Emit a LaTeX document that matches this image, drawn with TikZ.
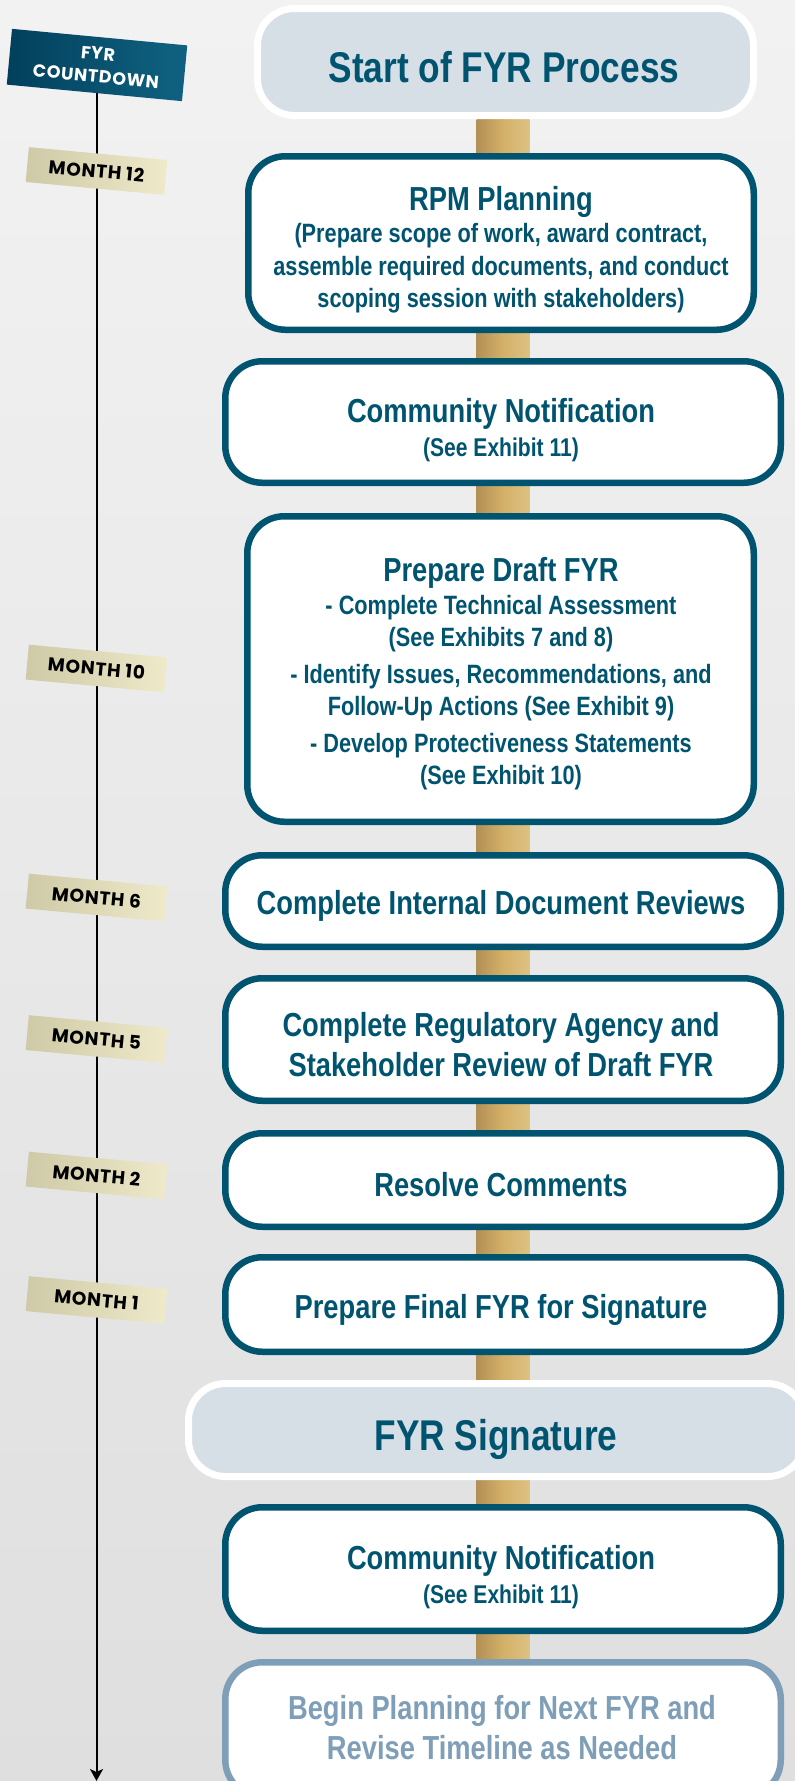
\documentclass[tikz,border=0pt]{standalone}
\usepackage{fontspec}
\usetikzlibrary{arrows.meta,calc}

\newfontfamily\narrowsans{Liberation Sans}[FakeStretch=0.82]
\newfontfamily\labelsans{Poppins}[LetterSpace=4]

\newcommand\fyrtitle{\narrowsans\bfseries\fontsize{43}{48}\selectfont}
\newcommand\fyrhead{\narrowsans\bfseries\fontsize{33.3}{40}\selectfont}
\newcommand\fyrsub{\narrowsans\bfseries\fontsize{26.5}{32.5}\selectfont}
\newcommand\fyrnote{\narrowsans\bfseries\fontsize{25.7}{32.5}\selectfont}

\definecolor{boxteal}{RGB}{0,84,112}
\definecolor{milefill}{RGB}{214,222,230}
\definecolor{fadeblue}{RGB}{127,158,183}
\definecolor{polel}{RGB}{178,144,86}
\definecolor{polem}{RGB}{212,176,104}
\definecolor{poler}{RGB}{221,194,132}
\definecolor{tagl}{RGB}{206,201,166}
\definecolor{tagr}{RGB}{238,234,202}
\definecolor{signl}{RGB}{2,64,92}
\definecolor{signr}{RGB}{16,98,130}
\definecolor{bgtop}{RGB}{242,242,242}
\definecolor{bgbot}{RGB}{223,223,223}

\pgfdeclarelayer{backdrop}
\pgfdeclarelayer{poles}
\pgfsetlayers{backdrop,poles,main}

\tikzset{
  stagebox/.style={draw=boxteal, line width=6.5pt, rounded corners=37pt,
    fill=white, inner sep=0pt},
  milebox/.style={draw=white, line width=7pt, rounded corners=37pt,
    fill=milefill, inner sep=0pt},
  nextbox/.style={stagebox, draw=fadeblue},
  stagetext/.style={text=boxteal, align=center, inner sep=0pt},
  monthtag/.style={rotate=-5.3, minimum width=139pt, minimum height=35pt,
    inner sep=0pt, left color=tagl, right color=tagr, text=black,
    font=\labelsans\bfseries\fontsize{18.5}{18.5}\selectfont},
  cdsign/.style={rotate=-5.4, minimum width=176pt, minimum height=56pt,
    inner sep=0pt, left color=signl, right color=signr, text=white,
    align=center, font=\labelsans\bfseries\fontsize{17.5}{23}\selectfont},
}

\begin{document}
\begin{tikzpicture}[x=1pt,y=-1pt]
\useasboundingbox (0,0) rectangle (795,1781);
\begin{pgfonlayer}{backdrop}
  \shade[top color=bgtop, bottom color=bgbot] (0,0) rectangle (795,1781);
\end{pgfonlayer}
\clip (0,0) rectangle (795,1781);

% process column
\node[milebox, minimum width=496, minimum height=107] (start) at (505.5,62) {};
\node[stagebox, minimum width=505.5, minimum height=173.5] (rpm) at (501,243) {};
\node[stagebox, minimum width=555.5, minimum height=121.5] (comm1) at (503,422) {};
\node[stagebox, minimum width=506.5, minimum height=305.5] (draft) at (500.5,669) {};
\node[stagebox, minimum width=555.5, minimum height=91.5] (internal) at (503,901) {};
\node[stagebox, minimum width=555.5, minimum height=122.5] (regul) at (503,1039.5) {};
\node[stagebox, minimum width=555.5, minimum height=93.5] (resolve) at (503,1180) {};
\node[stagebox, minimum width=555.5, minimum height=94.5] (final) at (503,1304.5) {};
\node[milebox, minimum width=616, minimum height=93] (sig) at (496.5,1430) {};
\node[stagebox, minimum width=555.5, minimum height=123.5] (comm2) at (503,1569) {};
\node[nextbox, minimum width=555.5, minimum height=134.5] (next) at (503,1729.5) {};

% gold pole joining the stages
\begin{pgfonlayer}{poles}
  \shade[left color=polel, right color=poler, middle color=polem]
    ($(start.south -| comm1.center)+(-26.5,0)$) rectangle ($(next.north -| comm1.center)+(26.5,0)$);
\end{pgfonlayer}

% stage texts
\node[stagetext, font=\fyrtitle] (start-t) at (504,67) {Start of FYR Process};
\node[stagetext, font=\fyrsub] (rpm-t) at (501,249.5)
  {{\fyrhead RPM Planning}\\(Prepare scope of work, award contract,\\assemble required documents, and conduct\\scoping session with stakeholders)};
\node[stagetext, font=\fyrnote] (comm1-t) at (501,430)
  {{\fyrhead Community Notification}\\[2pt](See Exhibit 11)};
\node[stagetext, font=\fyrsub] (draft-t) at (501,674)
  {{\fyrhead Prepare Draft FYR}\\- Complete Technical Assessment\\(See Exhibits 7 and 8)\\[4pt]- Identify Issues, Recommendations, and\\Follow-Up Actions (See Exhibit 9)\\[4pt]- Develop Protectiveness Statements\\(See Exhibit 10)};
\node[stagetext, font=\fyrhead] (internal-t) at (501,906) {Complete Internal Document Reviews};
\node[stagetext, font=\fyrhead] (regul-t) at (501,1045)
  {Complete Regulatory Agency and\\Stakeholder Review of Draft FYR};
\node[stagetext, font=\fyrhead] (resolve-t) at (501,1185) {Resolve Comments};
\node[stagetext, font=\fyrhead] (final-t) at (501,1310) {Prepare Final FYR for Signature};
\node[stagetext, font=\fyrtitle] (sig-t) at (496,1439) {FYR Signature};
\node[stagetext, font=\fyrnote] (comm2-t) at (501,1577)
  {{\fyrhead Community Notification}\\[2pt](See Exhibit 11)};
\node[stagetext, text=fadeblue, font=\fyrhead] (next-t) at (502,1728)
  {Begin Planning for Next FYR and\\Revise Timeline as Needed};

% countdown timeline
\node[cdsign] (sign) at (97,65) {FYR\\COUNTDOWN};
\coordinate (cd-end) at (96.5,1781);
\begin{pgfonlayer}{poles}
  \draw[line width=2pt, -{Stealth[length=12pt,width=13pt,inset=3pt]}] (sign.center -| cd-end) -- (cd-end);
\end{pgfonlayer}
\node[monthtag] (m12) at (96.5,171) {MONTH 12};
\node[monthtag] (m10) at (96.5,668.5) {MONTH 10};
\node[monthtag] (m6) at (96.5,897.5) {MONTH 6};
\node[monthtag] (m5) at (96.5,1039) {MONTH 5};
\node[monthtag] (m2) at (96.5,1175.5) {MONTH 2};
\node[monthtag] (m1) at (96.5,1300) {MONTH 1};
\end{tikzpicture}
\end{document}
